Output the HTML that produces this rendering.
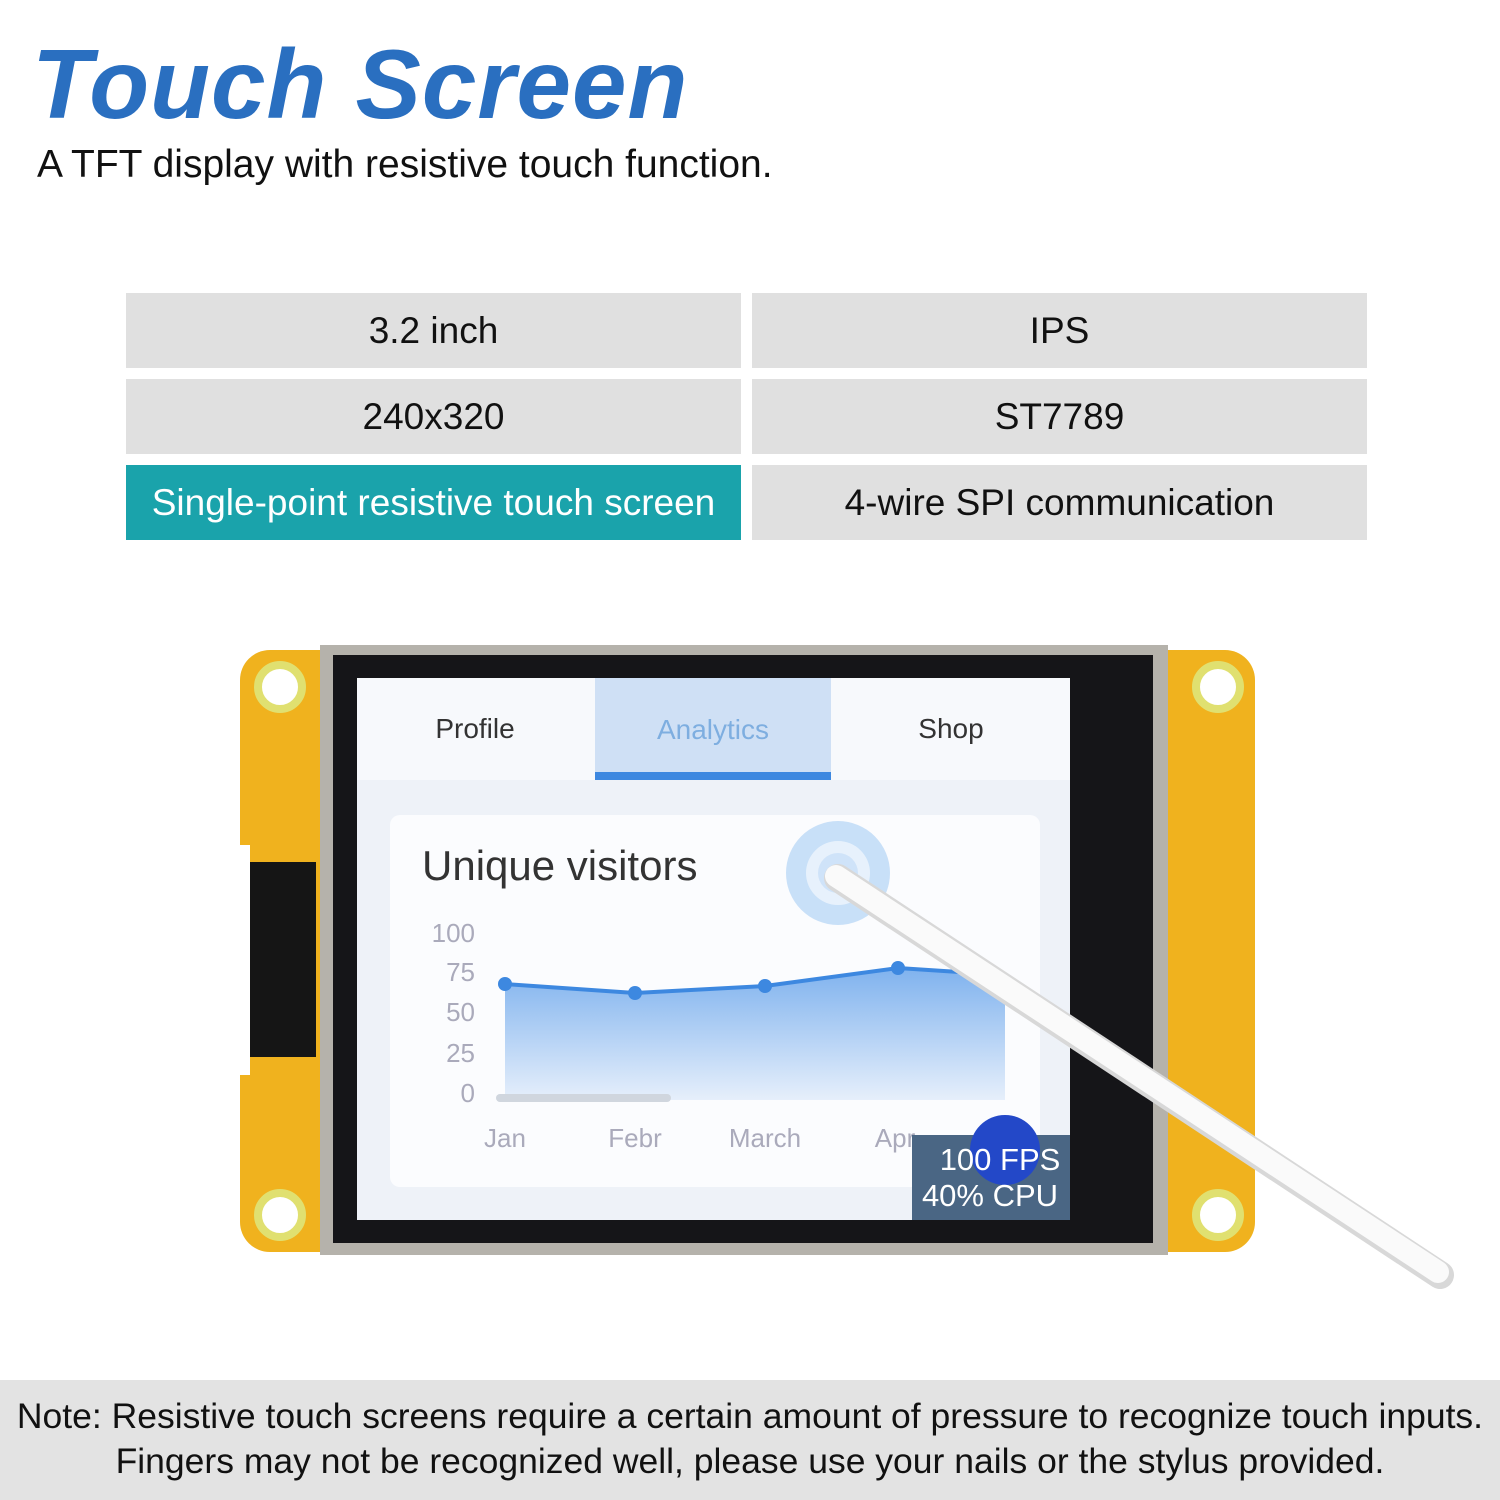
<!DOCTYPE html>
<html><head><meta charset="utf-8">
<style>
html,body{margin:0;padding:0;}
body{width:1500px;height:1500px;position:relative;background:#fff;overflow:hidden;font-family:"Liberation Sans","DejaVu Sans",sans-serif;}
.t{position:absolute;}
.cell{position:absolute;background:#e0e0e0;color:#111;font-size:37px;display:flex;align-items:center;justify-content:center;}
</style></head><body>
<div class="t" style="left:32px;top:28px;font-size:98px;font-weight:bold;font-style:italic;color:#2a6fc0;letter-spacing:1px;">Touch Screen</div>
<div class="t" style="left:37px;top:143px;font-size:39px;color:#111;">A TFT display with resistive touch function.</div>

<div class="cell" style="left:126px;top:293px;width:615px;height:75px;">3.2 inch</div>
<div class="cell" style="left:752px;top:293px;width:615px;height:75px;">IPS</div>
<div class="cell" style="left:126px;top:379px;width:615px;height:75px;">240x320</div>
<div class="cell" style="left:752px;top:379px;width:615px;height:75px;">ST7789</div>
<div class="cell" style="left:126px;top:465px;width:615px;height:75px;background:#1aa3ab;color:#fff;">Single-point resistive touch screen</div>
<div class="cell" style="left:752px;top:465px;width:615px;height:75px;">4-wire SPI communication</div>

<svg class="t" style="left:0;top:0" width="1500" height="1500">
  <rect x="240" y="650" width="1015" height="602" rx="30" fill="#f0b21e"/>
  <rect x="246" y="862" width="70" height="195" fill="#151515"/>
  <rect x="240" y="845" width="10" height="230" fill="#fff"/>
  <g fill="#fff" stroke="#e0e070" stroke-width="8">
    <circle cx="280" cy="687" r="22"/><circle cx="1218" cy="687" r="22"/>
    <circle cx="280" cy="1215" r="22"/><circle cx="1218" cy="1215" r="22"/>
  </g>
  <rect x="320" y="645" width="848" height="610" fill="#b5b2ab"/>
  <rect x="333" y="655" width="820" height="588" fill="#151518"/>
  <rect x="357" y="678" width="713" height="542" fill="#eef2f8"/>
  <rect x="357" y="678" width="713" height="102" fill="#f7f9fc"/>
  <rect x="595" y="678" width="236" height="102" fill="#cfe0f5"/>
  <rect x="595" y="772" width="236" height="8" fill="#3d88e0"/>
  <rect x="390" y="815" width="650" height="372" rx="10" fill="#fbfcfe"/>
  <text x="475" y="738" font-size="28" fill="#333" text-anchor="middle" font-family="Liberation Sans">Profile</text>
  <text x="713" y="739" font-size="28" fill="#7eaee0" text-anchor="middle" font-family="Liberation Sans">Analytics</text>
  <text x="951" y="738" font-size="28" fill="#333" text-anchor="middle" font-family="Liberation Sans">Shop</text>
  <text x="422" y="880" font-size="42" fill="#333" font-family="Liberation Sans">Unique visitors</text>
  <g font-size="26" fill="#aab" font-family="Liberation Sans" text-anchor="end">
    <text x="475" y="942">100</text><text x="475" y="981">75</text><text x="475" y="1021">50</text><text x="475" y="1062">25</text><text x="475" y="1102">0</text>
  </g>
  <g font-size="26" fill="#aab" font-family="Liberation Sans" text-anchor="middle">
    <text x="505" y="1147">Jan</text><text x="635" y="1147">Febr</text><text x="765" y="1147">March</text><text x="895" y="1147">Apr</text>
  </g>
  <defs><linearGradient id="g" x1="0" y1="0" x2="0" y2="1"><stop offset="0" stop-color="#7fb2ee"/><stop offset="1" stop-color="#e6effb"/></linearGradient></defs>
  <path d="M505 984 L635 993 L765 986 L898 968 L1005 975 L1005 1100 L505 1100 Z" fill="url(#g)"/>
  <polyline points="505,984 635,993 765,986 898,968 1005,975" fill="none" stroke="#3d88e0" stroke-width="4"/>
  <g fill="#3d88e0"><circle cx="505" cy="984" r="7"/><circle cx="635" cy="993" r="7"/><circle cx="765" cy="986" r="7"/><circle cx="898" cy="968" r="7"/></g>
  <rect x="496" y="1094" width="175" height="8" rx="4" fill="#d0d6de"/>
  <circle cx="838" cy="873" r="52" fill="#bcd8f6" opacity=".8"/>
  <circle cx="838" cy="873" r="32" fill="#e7f1fc"/>
  <circle cx="838" cy="873" r="20" fill="#cfe3f9"/>
  <rect x="912" y="1135" width="158" height="85" fill="#4a6684"/>
  <circle cx="1005" cy="1150" r="35" fill="#2348c8"/>
  <text x="1000" y="1170" font-size="31" fill="#fff" text-anchor="middle" font-family="Liberation Sans">100 FPS</text>
  <text x="990" y="1206" font-size="31" fill="#fff" text-anchor="middle" font-family="Liberation Sans">40% CPU</text>
  <line x1="838" y1="878" x2="1440" y2="1275" stroke="#d8d8d8" stroke-width="28" stroke-linecap="round"/>
  <line x1="836" y1="876" x2="1438" y2="1272" stroke="#fafafa" stroke-width="22" stroke-linecap="round"/>
</svg>

<div class="t" style="left:0;top:1380px;width:1500px;height:120px;background:#e3e3e3;color:#111;font-size:35.5px;text-align:center;line-height:45px;padding-top:14px;box-sizing:border-box;white-space:nowrap;">Note: Resistive touch screens require a certain amount of pressure to recognize touch inputs.<br>Fingers may not be recognized well, please use your nails or the stylus provided.</div>
</body></html>
